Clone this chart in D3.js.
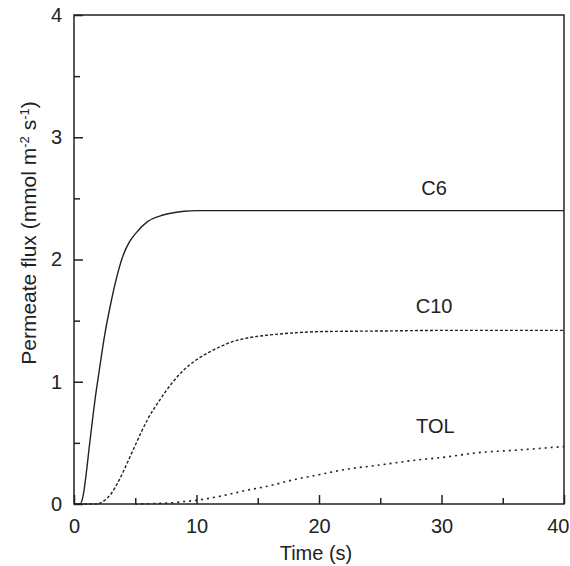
<!DOCTYPE html>
<html>
<head>
<meta charset="utf-8">
<script src="https://cdn.jsdelivr.net/npm/d3@7"></script>
<style>
  html, body { margin: 0; padding: 0; background: #fff; }
  svg { display: block; }
  text { font-family: "Liberation Sans", Arial, sans-serif; fill: #222; }
</style>
</head>
<body>
<svg id="chart" width="570" height="566"></svg>
<script>
// ---- data ----
const c6Time = [0, 0.5, 0.75, 1.0, 1.25, 1.5, 1.75, 2.0, 2.5, 3.0, 3.5, 4.0, 4.5, 5, 6, 7, 8, 9, 10, 12, 20, 30, 40];
const c6Flux = [0, 0, 0.07, 0.25, 0.47, 0.68, 0.88, 1.05, 1.38, 1.64, 1.86, 2.03, 2.14, 2.21, 2.31, 2.355, 2.38, 2.395, 2.40, 2.40, 2.40, 2.40, 2.40];

const c10Time = [0, 1.8, 2.5, 3, 3.5, 4, 4.5, 5, 5.5, 6, 7, 8, 9, 10, 11, 12, 13, 14, 16, 18, 20, 25, 30, 40];
const c10Flux = [0, 0, 0.03, 0.08, 0.16, 0.26, 0.37, 0.48, 0.59, 0.69, 0.85, 0.99, 1.10, 1.18, 1.24, 1.29, 1.33, 1.355, 1.383, 1.40, 1.41, 1.415, 1.42, 1.42];

const tolTime = [5, 7, 8, 9, 10, 12, 14, 16, 18, 20, 22, 25, 28, 30, 33, 36, 40];
const tolFlux = [0, 0.005, 0.01, 0.02, 0.03, 0.065, 0.11, 0.15, 0.20, 0.24, 0.28, 0.32, 0.36, 0.38, 0.42, 0.44, 0.47];

const xTicks = [0, 10, 20, 30, 40];
const xMinor = [5, 15, 25, 35];
const yTicks = [0, 1, 2, 3, 4];
const yMinor = [0.5, 1.5, 2.5, 3.5];

const seriesLabels = [
  { name: "C6", t: 29.4, v: 2.53 },
  { name: "C10", t: 29.4, v: 1.56 },
  { name: "TOL", t: 29.5, v: 0.58 }
];

// ---- layout ----
const svg = d3.select("#chart");
const L = 74, R = 564, T = 15, B = 504;
const x = d3.scaleLinear().domain([0, 40]).range([L, R]);
const y = d3.scaleLinear().domain([0, 4]).range([B, T]);
const ink = "#222";
const FS = 20;

// frame
svg.append("rect").attr("x", L).attr("y", T).attr("width", R - L).attr("height", B - T)
  .attr("fill", "none").attr("stroke", ink).attr("stroke-width", 1.5);

// x axis
const xAxis = d3.axisBottom(x).tickValues(xTicks).tickSize(-9).tickPadding(15).tickFormat(d3.format("d"));
const gx = svg.append("g").attr("transform", `translate(0,${B})`).call(xAxis);
const xAxisMinor = d3.axisBottom(x).tickValues(xMinor).tickSize(-6).tickFormat("");
const gxm = svg.append("g").attr("transform", `translate(0,${B})`).call(xAxisMinor);

// y axis
const yAxis = d3.axisLeft(y).tickValues(yTicks).tickSize(-9).tickPadding(12).tickFormat(d3.format("d"));
const gy = svg.append("g").attr("transform", `translate(${L},0)`).call(yAxis);
const yAxisMinor = d3.axisLeft(y).tickValues(yMinor).tickSize(-6).tickFormat("");
const gym = svg.append("g").attr("transform", `translate(${L},0)`).call(yAxisMinor);

[gx, gxm, gy, gym].forEach(g => {
  g.select(".domain").remove();
  g.selectAll(".tick line").attr("stroke", ink).attr("stroke-width", 1.5);
  g.selectAll(".tick text").attr("font-size", FS).attr("fill", ink)
    .style("font-family", '"Liberation Sans", Arial, sans-serif');
});
gy.selectAll(".tick text").attr("x", -12);
// last x label sits flush with the right edge, as in the reference
gx.selectAll(".tick text").filter(d => d === 40)
  .attr("text-anchor", "end").attr("dx", 569 - x(40));

// axis titles
svg.append("text").attr("x", (L + R) / 2 - 3).attr("y", 560)
  .attr("text-anchor", "middle").attr("font-size", FS).text("Time (s)");

const yt = svg.append("text")
  .attr("transform", "translate(36,233) rotate(-90)")
  .attr("text-anchor", "middle").attr("font-size", 21);
yt.append("tspan").text("Permeate flux (mmol m");
yt.append("tspan").attr("baseline-shift", "super").attr("font-size", 13).text("-2");
yt.append("tspan").text(" s");
yt.append("tspan").attr("baseline-shift", "super").attr("font-size", 13).text("-1");
yt.append("tspan").text(")");

// curves
const line = d3.line().x(d => x(d[0])).y(d => y(d[1])).curve(d3.curveMonotoneX);
const series = [
  { t: c6Time, v: c6Flux, dash: null, width: 1.4 },
  { t: c10Time, v: c10Flux, dash: "3,2", width: 1.4 },
  { t: tolTime, v: tolFlux, dash: "2,4", width: 1.6 }
];
series.forEach(s => {
  const pts = s.t.map((t, i) => [t, s.v[i]]);
  svg.append("path").datum(pts).attr("d", line)
    .attr("fill", "none").attr("stroke", ink).attr("stroke-width", s.width)
    .attr("stroke-dasharray", s.dash);
});

// series labels
seriesLabels.forEach(l => {
  svg.append("text").attr("x", x(l.t)).attr("y", y(l.v))
    .attr("text-anchor", "middle").attr("font-size", FS).text(l.name);
});
</script>
</body>
</html>
